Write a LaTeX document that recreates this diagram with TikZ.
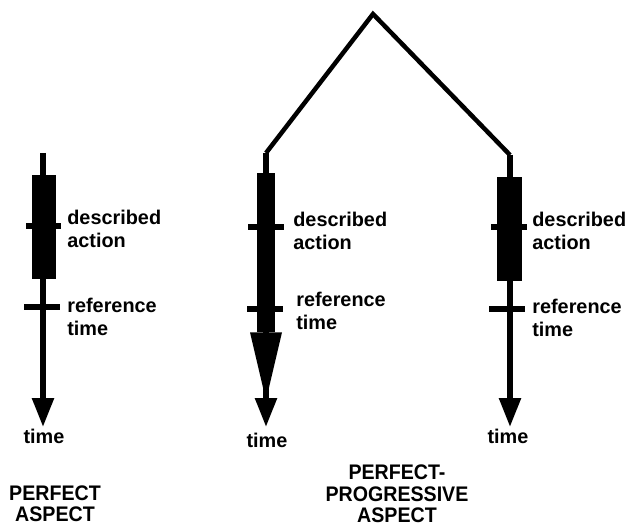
\documentclass[tikz,border=0pt]{standalone}
\usepackage{fontspec}
\setmainfont{Liberation Sans}
\newfontfamily\aspectfont[FakeStretch=0.93]{Liberation Sans}
\usetikzlibrary{arrows.meta, positioning}

\tikzset{
  timeline/.style={line width=0.11cm, -{Triangle[width=0.42cm, length=0.58cm]}},
  roof/.style={line width=0.09cm, line join=miter},
  actionbox/.style={rectangle, fill=black, inner sep=0pt, minimum width=0.48cm, minimum height=2.08cm},
  tickmark/.style={rectangle, fill=black, inner sep=0pt, minimum width=0.72cm, minimum height=0.12cm},
  lbl/.style={font=\bfseries\fontsize{11.3}{13}\selectfont, align=left, inner sep=0pt, anchor=west},
  aspectlbl/.style={font=\aspectfont\bfseries\fontsize{12}{12.2}\selectfont, align=center, inner sep=0pt}
}

\begin{document}
\begin{tikzpicture}[x=0.02cm, y=-0.02cm]
\useasboundingbox (0,0) rectangle (629,527);

\coordinate (perfStart) at (43,153);
\coordinate (perfEnd) at (43,427);
\coordinate (progStart) at (266,153);
\coordinate (progEnd) at (266,427);
\coordinate (contStart) at (510,155);
\coordinate (contEnd) at (510,427);
\coordinate (apex) at (373,14);

\draw[roof] (progStart) -- (apex) -- (contStart);

\draw[timeline] (perfStart) -- (perfEnd);
\node[actionbox] (perfAction) at (44,227) {};
\node[tickmark] (perfActionTick) at (43.5,226) {};
\node[tickmark] (perfRefTick) at (42,307) {};
\node[lbl] (perfActionLbl) at (67,229) {described\\action};
\node[lbl] (perfRefLbl) at (67,317) {reference\\time};
\node[lbl, anchor=center] (perfTimeLbl) at (44,436) {time};

\draw[timeline] (progStart) -- (progEnd);
\node[actionbox, minimum width=0.36cm, minimum height=3.18cm] (progAction) at (266,252.5) {};
\fill ([xshift=-0.32cm]progAction.south) -- ([xshift=0.32cm]progAction.south)
  -- ([yshift=-1.36cm]progAction.south) -- cycle;
\node[tickmark] (progActionTick) at (266,227) {};
\node[tickmark] (progRefTick) at (265,309) {};
\node[lbl] (progActionLbl) at (293,231) {described\\action};
\node[lbl] (progRefLbl) at (296,311) {reference\\time};
\node[lbl, anchor=center] (progTimeLbl) at (267,440) {time};

\draw[timeline] (contStart) -- (contEnd);
\node[actionbox, minimum width=0.5cm] (contAction) at (509.5,229) {};
\node[tickmark] (contActionTick) at (509,227) {};
\node[tickmark] (contRefTick) at (507,309) {};
\node[lbl] (contActionLbl) at (532,231) {described\\action};
\node[lbl] (contRefLbl) at (532,318) {reference\\time};
\node[lbl, anchor=center] (contTimeLbl) at (508,436) {time};

\node[aspectlbl] (perfAspect) at (55,504) {PERFECT\\ASPECT};
\node[aspectlbl] (progAspect) at (397,494) {PERFECT-\\PROGRESSIVE\\ASPECT};
\end{tikzpicture}
\end{document}
